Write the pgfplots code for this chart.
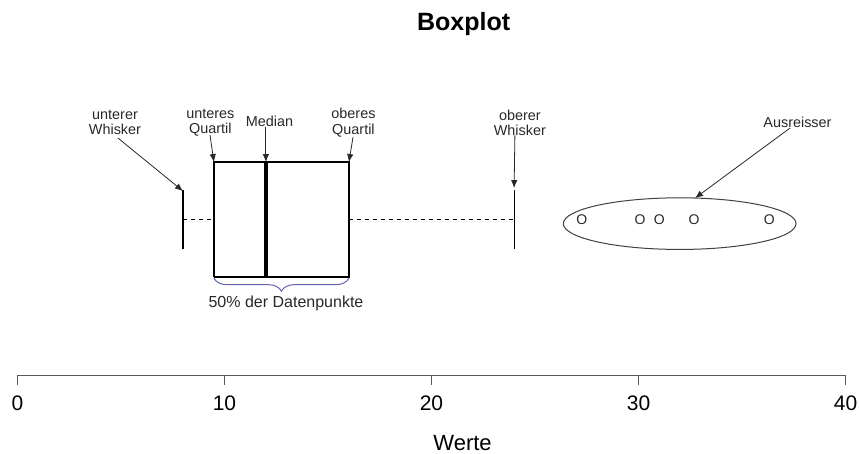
\documentclass[border=0pt]{standalone}
\usepackage{pgfplots}
\pgfplotsset{compat=1.18}
\usepackage{fontspec}
\setmainfont{Liberation Sans}
\usetikzlibrary{arrows.meta,decorations.pathreplacing}
\definecolor{bracecol}{RGB}{100,100,170}
\definecolor{anncol}{RGB}{40,40,40}
\begin{document}
\begin{tikzpicture}
\begin{axis}[
  scale only axis, width=413.75pt, height=187.5pt,
  xmin=0, xmax=40, ymin=78, ymax=453,
  clip=false,
  axis x line*=bottom, axis y line=none,
  xtick={0,10,20,30,40},
  tick align=outside, major tick length=5pt,
  x axis line style={draw=black!65, line width=0.6pt},
  xtick style={draw=black!65, line width=0.6pt},
  xticklabel style={font=\fontsize{10.5}{12}\selectfont, anchor=base, yshift=-12.5pt},
  /pgf/number format/assume math mode=true,
]
% box
\addplot[black, line width=0.7pt, line join=miter] coordinates {(9.49,176) (16.01,176) (16.01,291) (9.49,291) (9.49,176)};
% median
\addplot[black, line width=2pt] coordinates {(12,176) (12,291)};
% whiskers
\addplot[black, line width=0.7pt] coordinates {(8,204) (8,263)};
\addplot[black, line width=0.7pt] coordinates {(24,204) (24,263)};
\addplot[black, line width=0.5pt, dash pattern=on 2pt off 2pt] coordinates {(8,234) (9.49,234)};
\addplot[black, line width=0.5pt, dash pattern=on 2pt off 2pt] coordinates {(16.01,234) (24,234)};
% outliers
\addplot[only marks, mark=text, text mark={O}, text mark as node=true,
  text mark style={font=\fontsize{7}{8}\selectfont, inner sep=0pt, text=anncol}]
  coordinates {(27.26,233) (30.07,233) (31.0,233) (32.68,233) (36.32,233)};
% ellipse around outliers
\draw[black!75, line width=0.5pt] (axis cs:31.99,229.5) ellipse [x radius=58.15pt, y radius=12.9pt];
% brace
\draw[bracecol, line width=0.5pt, decorate, decoration={brace, mirror, amplitude=6.5pt}] (axis cs:9.49,175) -- (axis cs:16.01,175);
\node[font=\fontsize{8}{9.5}\selectfont, text=anncol] at (axis cs:12.97,150) {50\% der Datenpunkte};
% annotations
\tikzset{ann/.style={align=center, font=\fontsize{7.2}{7.6}\selectfont, text=anncol},
         arr/.style={-{Latex[length=4pt,width=3.2pt]}, anncol, line width=0.4pt}}
\node[ann] at (axis cs:4.71,330.5) {unterer\\Whisker};
\node[ann] at (axis cs:9.32,330.5) {unteres\\Quartil};
\node[ann] at (axis cs:12.17,331.5) {Median};
\node[ann] at (axis cs:16.23,330.5) {oberes\\Quartil};
\node[ann] at (axis cs:24.27,330.5) {oberer\\Whisker};
\node[ann] at (axis cs:37.68,331) {Ausreisser};
\draw[arr] (axis cs:4.855,315) -- (axis cs:7.995,262);
\draw[arr] (axis cs:9.30,318) -- (axis cs:9.49,291);
\draw[arr] (axis cs:12.0,326) -- (axis cs:12.0,291);
\draw[arr] (axis cs:16.21,316) -- (axis cs:16.01,291);
\draw[arr] (axis cs:24.03,318) -- (axis cs:23.99,265);
\draw[arr] (axis cs:37.32,325) -- (axis cs:32.73,255);
% title and label
\node[font=\bfseries\fontsize{12.5}{15}\selectfont, anchor=base] at (axis cs:21.55,423) {Boxplot};
\node[font=\fontsize{11}{13}\selectfont, anchor=base] at (axis cs:21.5,2.5) {Werte};
\coordinate (bl) at (axis cs:-0.845,0);
\coordinate (tr) at (axis cs:40.652,453);
\end{axis}
\pgfresetboundingbox
\path (bl) rectangle (tr);
\end{tikzpicture}
\end{document}
